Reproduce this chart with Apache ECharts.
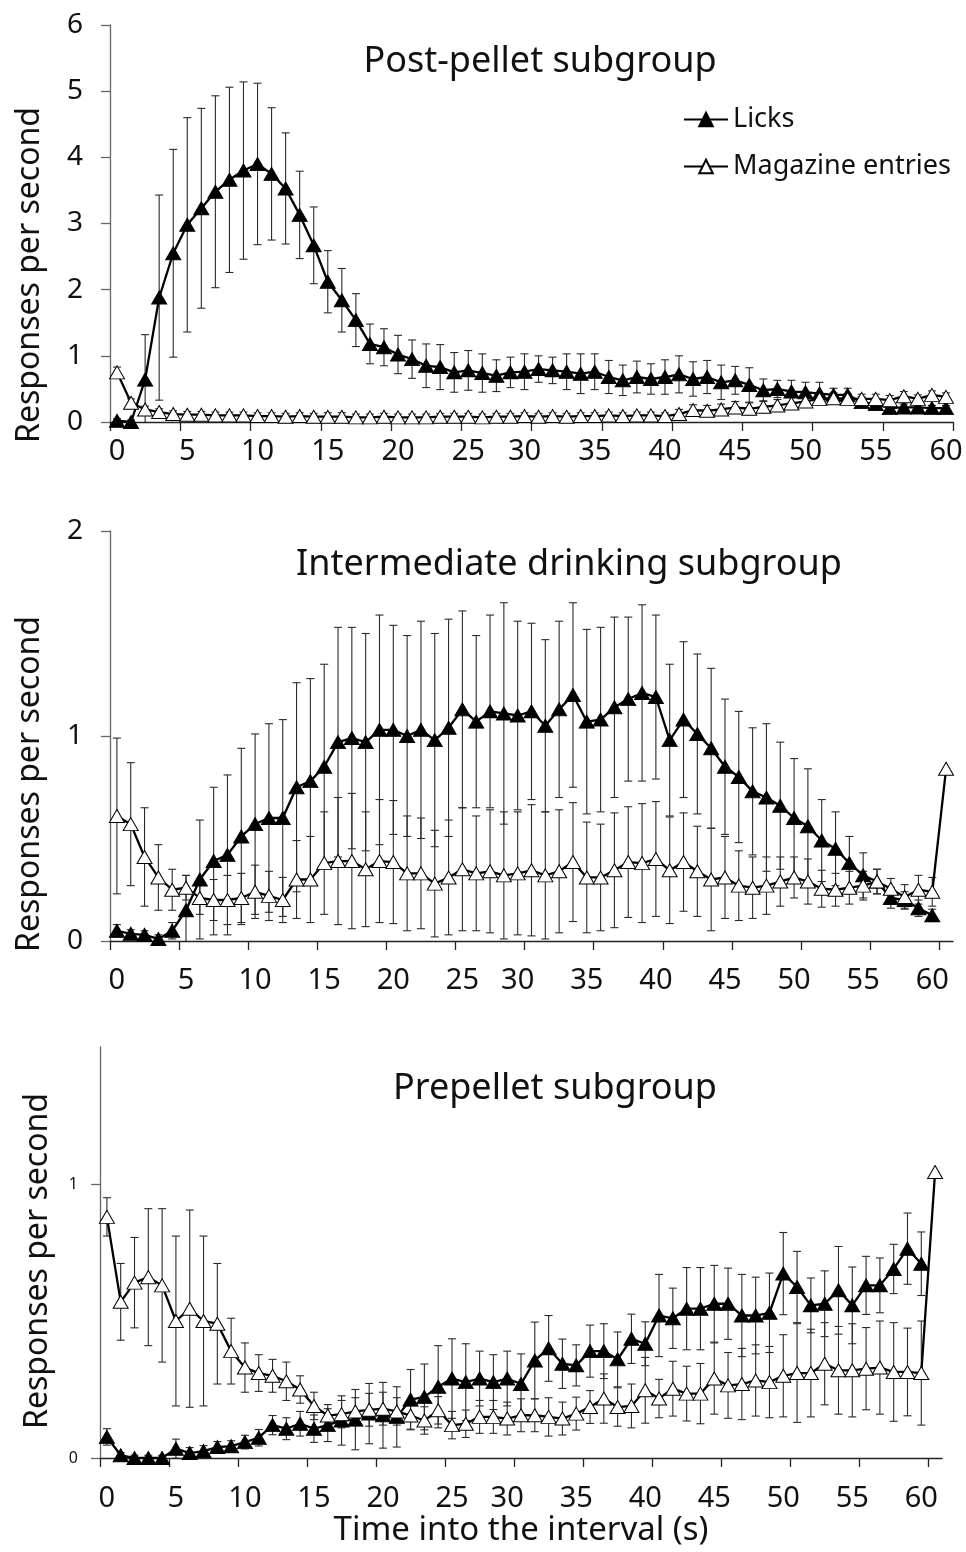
<!DOCTYPE html>
<html>
<head>
<meta charset="utf-8">
<script src="https://cdn.jsdelivr.net/npm/echarts@6/dist/echarts.min.js"></script>
<style>
  html, body { margin: 0; padding: 0; background: #fff; }
  #chart { width: 966px; height: 1552px; }
</style>
</head>
<body>
<div id="chart"></div>
<script>
// ---- Axis labels ----------------------------------------------------------
const tickLabelText = ['0', '5', '10', '15', '20', '25', '30', '35', '40', '45', '50', '55', '60'];
// category slot under which each time label is printed
const tickLabelSlot = [0, 5, 10, 15, 20, 25, 29, 34, 39, 44, 49, 54, 59];
const tickMarkValues = [0, 5, 10, 15, 20, 25, 30, 35, 40, 45, 50, 55, 60];
const panelTitles = ['Post-pellet subgroup', 'Intermediate drinking subgroup', 'Prepellet subgroup'];
const seriesNames = ['Licks', 'Magazine entries'];
const yAxisName = 'Responses per second';
const xAxisName = 'Time into the interval (s)';

// ---- Post-pellet subgroup (responses per second, mean and SEM) --------------
const postLicks = [0.02, 0.0, 0.64, 1.88, 2.55, 2.98, 3.23, 3.48, 3.66, 3.80,
  3.90, 3.75, 3.53, 3.13, 2.67, 2.12, 1.84, 1.54, 1.18, 1.13,
  1.02, 0.95, 0.85, 0.83, 0.75, 0.78, 0.74, 0.70, 0.75, 0.76,
  0.80, 0.78, 0.76, 0.73, 0.76, 0.68, 0.63, 0.68, 0.65, 0.68,
  0.72, 0.65, 0.68, 0.60, 0.63, 0.56, 0.48, 0.50, 0.46, 0.45,
  0.43, 0.41, 0.41, 0.30, 0.27, 0.21, 0.22, 0.22, 0.21, 0.21];
const postLicksErr = [0.03, 0.03, 0.68, 1.55, 1.57, 1.62, 1.51, 1.45, 1.40, 1.34,
  1.22, 1.00, 0.84, 0.66, 0.58, 0.47, 0.48, 0.40, 0.30, 0.28,
  0.29, 0.29, 0.33, 0.34, 0.30, 0.30, 0.29, 0.24, 0.23, 0.27,
  0.20, 0.20, 0.27, 0.30, 0.27, 0.25, 0.23, 0.24, 0.23, 0.26,
  0.28, 0.26, 0.25, 0.26, 0.21, 0.26, 0.17, 0.13, 0.17, 0.15,
  0.17, 0.10, 0.10, 0.08, 0.06, 0.05, 0.05, 0.04, 0.04, 0.04];
const postMag = [0.75, 0.29, 0.19, 0.15, 0.12, 0.11, 0.11, 0.10, 0.10, 0.10,
  0.09, 0.09, 0.08, 0.09, 0.08, 0.08, 0.08, 0.07, 0.07, 0.08,
  0.07, 0.07, 0.07, 0.08, 0.08, 0.08, 0.07, 0.08, 0.08, 0.09,
  0.08, 0.09, 0.08, 0.09, 0.09, 0.10, 0.09, 0.10, 0.10, 0.09,
  0.12, 0.18, 0.17, 0.19, 0.22, 0.20, 0.23, 0.25, 0.28, 0.31,
  0.35, 0.36, 0.35, 0.35, 0.35, 0.33, 0.39, 0.35, 0.41, 0.38];
const postMagErr = [0.08, 0.06, 0.05, 0.05, 0.05, 0.05, 0.05, 0.05, 0.05, 0.05,
  0.05, 0.05, 0.05, 0.05, 0.05, 0.06, 0.06, 0.05, 0.05, 0.05,
  0.05, 0.05, 0.05, 0.05, 0.05, 0.05, 0.05, 0.05, 0.05, 0.05,
  0.05, 0.05, 0.05, 0.05, 0.05, 0.05, 0.05, 0.05, 0.05, 0.05,
  0.07, 0.08, 0.08, 0.08, 0.09, 0.09, 0.09, 0.09, 0.09, 0.09,
  0.08, 0.08, 0.08, 0.07, 0.07, 0.07, 0.07, 0.06, 0.06, 0.06];

// ---- Intermediate drinking subgroup ---------------------------------------
const midLicks = [0.05, 0.035, 0.03, 0.01, 0.05, 0.15, 0.30, 0.39, 0.42, 0.51,
  0.57, 0.60, 0.60, 0.75, 0.78, 0.85, 0.97, 0.99, 0.97, 1.03,
  1.03, 1.00, 1.03, 0.98, 1.04, 1.13, 1.07, 1.12, 1.11, 1.10,
  1.12, 1.05, 1.13, 1.20, 1.07, 1.08, 1.14, 1.18, 1.21, 1.19,
  0.98, 1.08, 1.01, 0.94, 0.85, 0.80, 0.73, 0.70, 0.66, 0.60,
  0.56, 0.49, 0.45, 0.38, 0.32, 0.29, 0.21, 0.20, 0.16, 0.125];
const midLicksErr = [0.03, 0.02, 0.02, 0.02, 0.04, 0.17, 0.29, 0.36, 0.39, 0.43,
  0.44, 0.46, 0.48, 0.51, 0.50, 0.50, 0.56, 0.54, 0.53, 0.56,
  0.51, 0.49, 0.53, 0.52, 0.53, 0.48, 0.42, 0.47, 0.54, 0.46,
  0.43, 0.42, 0.43, 0.45, 0.45, 0.45, 0.44, 0.40, 0.43, 0.40,
  0.37, 0.38, 0.39, 0.39, 0.33, 0.32, 0.31, 0.36, 0.31, 0.29,
  0.28, 0.20, 0.18, 0.13, 0.11, 0.06, 0.05, 0.04, 0.04, 0.03];
const midMag = [0.61, 0.57, 0.41, 0.31, 0.25, 0.26, 0.21, 0.20, 0.20, 0.21,
  0.24, 0.22, 0.20, 0.30, 0.30, 0.38, 0.39, 0.39, 0.35, 0.39,
  0.385, 0.33, 0.33, 0.28, 0.31, 0.35, 0.33, 0.34, 0.32, 0.33,
  0.345, 0.32, 0.34, 0.385, 0.31, 0.31, 0.345, 0.385, 0.38, 0.40,
  0.345, 0.385, 0.34, 0.30, 0.31, 0.27, 0.26, 0.27, 0.29, 0.31,
  0.29, 0.255, 0.25, 0.26, 0.27, 0.29, 0.255, 0.215, 0.25, 0.24,
  0.84];
const midMagErr = [0.38, 0.30, 0.24, 0.16, 0.10, 0.06, 0.08, 0.10, 0.12, 0.12,
  0.13, 0.12, 0.11, 0.19, 0.21, 0.25, 0.31, 0.33, 0.28, 0.30,
  0.30, 0.28, 0.27, 0.26, 0.28, 0.30, 0.28, 0.30, 0.31, 0.30,
  0.32, 0.31, 0.30, 0.29, 0.27, 0.26, 0.28, 0.27, 0.29, 0.28,
  0.26, 0.24, 0.22, 0.25, 0.20, 0.17, 0.15, 0.14, 0.12, 0.10,
  0.11, 0.09, 0.08, 0.08, 0.07, 0.06, 0.05, 0.06, 0.07, 0.07,
  0.0];

// ---- Prepellet subgroup ----------------------------------------------------
const preLicks = [0.077, 0.01, 0.0, 0.0, 0.0, 0.034, 0.018, 0.025, 0.04, 0.043,
  0.058, 0.074, 0.12, 0.107, 0.125, 0.107, 0.12, 0.137, 0.14, 0.162,
  0.156, 0.15, 0.213, 0.223, 0.26, 0.29, 0.277, 0.29, 0.277, 0.29,
  0.27, 0.356, 0.40, 0.344, 0.338, 0.39, 0.39, 0.36, 0.435, 0.417,
  0.52, 0.51, 0.545, 0.545, 0.563, 0.563, 0.52, 0.52, 0.53, 0.673,
  0.624, 0.557, 0.563, 0.612, 0.557, 0.63, 0.63, 0.69, 0.764, 0.709];
const preLicksErr = [0.03, 0.01, 0.01, 0.01, 0.01, 0.035, 0.02, 0.02, 0.02, 0.02,
  0.025, 0.03, 0.035, 0.04, 0.045, 0.05, 0.06, 0.09, 0.11, 0.11,
  0.12, 0.11, 0.11, 0.12, 0.15, 0.145, 0.14, 0.10, 0.10, 0.10,
  0.11, 0.14, 0.12, 0.09, 0.075, 0.095, 0.10, 0.10, 0.09, 0.08,
  0.15, 0.11, 0.15, 0.15, 0.14, 0.13, 0.15, 0.14, 0.145, 0.15,
  0.13, 0.10, 0.12, 0.16, 0.14, 0.106, 0.10, 0.09, 0.13, 0.116];
const preMag = [0.88, 0.57, 0.64, 0.66, 0.63, 0.50, 0.545, 0.50, 0.49, 0.39,
  0.33, 0.31, 0.30, 0.28, 0.25, 0.19, 0.155, 0.16, 0.17, 0.176,
  0.18, 0.17, 0.155, 0.137, 0.174, 0.12, 0.125, 0.15, 0.15, 0.144,
  0.156, 0.156, 0.15, 0.144, 0.162, 0.186, 0.217, 0.186, 0.19, 0.247,
  0.217, 0.253, 0.235, 0.235, 0.29, 0.265, 0.27, 0.283, 0.277, 0.30,
  0.31, 0.31, 0.344, 0.32, 0.32, 0.326, 0.33, 0.314, 0.314, 0.31,
  1.044];
const preMagErr = [0.07, 0.14, 0.165, 0.25, 0.28, 0.31, 0.36, 0.31, 0.22, 0.12,
  0.09, 0.067, 0.06, 0.07, 0.05, 0.05, 0.04, 0.05, 0.05, 0.06,
  0.06, 0.05, 0.05, 0.05, 0.05, 0.05, 0.05, 0.06, 0.06, 0.06,
  0.06, 0.06, 0.07, 0.06, 0.06, 0.06, 0.09, 0.07, 0.08, 0.12,
  0.07, 0.10, 0.10, 0.11, 0.13, 0.12, 0.13, 0.13, 0.13, 0.15,
  0.18, 0.16, 0.15, 0.16, 0.17, 0.15, 0.17, 0.18, 0.16, 0.19,
  0.0];

// ---- Panel assembly ---------------------------------------------------------
const panelData = [
  { licks: postLicks, licksErr: postLicksErr, mag: postMag, magErr: postMagErr, slots: 60, yMax: 6, yTicks: [0, 1, 2, 3, 4, 5, 6] },
  { licks: midLicks, licksErr: midLicksErr, mag: midMag, magErr: midMagErr, slots: 61, yMax: 2, yTicks: [0, 1, 2] },
  { licks: preLicks, licksErr: preLicksErr, mag: preMag, magErr: preMagErr, slots: 61, yMax: 1.5, yTicks: [0, 1] }
];

// layout of each panel
const layout = [
  { grid: { left: 110, top: 25, width: 843, height: 397 }, xLabelMargin: 15, yLabelSize: 28, yLabelMargin: 27,
    title: [535, 60], yName: [30, 275] },
  { grid: { left: 110, top: 531, width: 843, height: 410 }, xLabelMargin: 25, yLabelSize: 28, yLabelMargin: 27,
    title: [564, 563], yName: [30, 784] },
  { grid: { left: 100, top: 1047, width: 842, height: 411 }, xLabelMargin: 26, yLabelSize: 16, yLabelMargin: 22,
    title: [550, 1087], yName: [38, 1261] }
];

const FONT = '"Noto Sans", "Open Sans", sans-serif';
const INK = '#111';

function renderErrorBar(params, api) {
  const err = api.value(2);
  if (!err) return null;
  const i = api.value(0);
  const m = api.value(1);
  const top = api.coord([i, m + err]);
  const bot = api.coord([i, m - err]);
  const half = 4;
  const style = { stroke: '#2a2a2a', lineWidth: 1.1 };
  return {
    type: 'group',
    children: [
      { type: 'line', shape: { x1: top[0], y1: top[1], x2: bot[0], y2: bot[1] }, style },
      { type: 'line', shape: { x1: top[0] - half, y1: top[1], x2: top[0] + half, y2: top[1] }, style },
      { type: 'line', shape: { x1: bot[0] - half, y1: bot[1], x2: bot[0] + half, y2: bot[1] }, style }
    ]
  };
}

function slotLabel(value, index) {
  const k = tickLabelSlot.indexOf(index);
  return k >= 0 ? tickLabelText[k] : '';
}

const grids = [], xAxes = [], yAxes = [], series = [], titles = [], graphics = [];

panelData.forEach((p, g) => {
  const L = layout[g];
  grids.push(L.grid);
  const cats = Array.from({ length: p.slots }, (_, i) => String(i));

  // axis line and tick marks at the slot boundaries
  xAxes.push({
    gridIndex: g, type: 'value', min: 0, max: p.slots, position: 'bottom',
    axisLine: { show: true, onZero: false, lineStyle: { color: '#222', width: 1.3 } },
    axisTick: { show: true, length: 9, customValues: tickMarkValues, lineStyle: { color: '#222', width: 1.3 } },
    axisLabel: { show: false },
    splitLine: { show: false },
    name: g === 2 ? xAxisName : '',
    nameLocation: 'middle', nameGap: 56,
    nameTextStyle: { fontFamily: FONT, fontSize: 33, color: INK }
  });
  // time slots carrying the data and the labels
  xAxes.push({
    gridIndex: g, type: 'category', data: cats, boundaryGap: true, position: 'bottom',
    axisLine: { show: false, onZero: false }, axisTick: { show: false }, splitLine: { show: false },
    axisLabel: { interval: 0, formatter: slotLabel, fontFamily: FONT, fontSize: 29, color: INK, margin: L.xLabelMargin }
  });
  yAxes.push({
    gridIndex: g, type: 'value', min: 0, max: p.yMax, interval: 1,
    axisLine: { show: true, lineStyle: { color: '#666', width: 1.3 } },
    axisTick: { show: true, length: 9, customValues: p.yTicks, lineStyle: { color: '#666', width: 1.3 } },
    axisLabel: { customValues: p.yTicks, fontFamily: FONT, fontSize: L.yLabelSize, color: INK, margin: L.yLabelMargin },
    splitLine: { show: false }
  });

  const xi = g * 2 + 1;
  series.push({
    type: 'custom', xAxisIndex: xi, yAxisIndex: g, silent: true, clip: true, z: 1,
    renderItem: renderErrorBar, encode: { x: 0, y: 1 },
    data: p.licks.map((v, i) => [i, v, p.licksErr[i]])
  });
  series.push({
    type: 'custom', xAxisIndex: xi, yAxisIndex: g, silent: true, clip: true, z: 1,
    renderItem: renderErrorBar, encode: { x: 0, y: 1 },
    data: p.mag.map((v, i) => [i, v, p.magErr[i]])
  });
  series.push({
    name: seriesNames[0], type: 'line', xAxisIndex: xi, yAxisIndex: g, data: p.licks,
    symbol: 'triangle', symbolSize: [15, 13], showSymbol: true, showAllSymbol: true, z: 3,
    lineStyle: { color: '#000', width: 2.3 },
    itemStyle: { color: '#000', borderColor: '#000', borderWidth: 1 }
  });
  series.push({
    name: seriesNames[1], type: 'line', xAxisIndex: xi, yAxisIndex: g, data: p.mag,
    symbol: 'triangle', symbolSize: [15, 13], showSymbol: true, showAllSymbol: true, z: 4,
    lineStyle: { color: '#000', width: 2.3 },
    itemStyle: { color: '#fff', borderColor: '#000', borderWidth: 1 }
  });

  titles.push({
    text: panelTitles[g], left: L.title[0], top: L.title[1] - 21, textAlign: 'center',
    textStyle: { fontFamily: FONT, fontSize: 36, fontWeight: 'normal', color: INK }
  });
  graphics.push({
    type: 'text', x: L.yName[0], y: L.yName[1], rotation: Math.PI / 2,
    style: { text: yAxisName, font: '32px ' + FONT, fill: INK, align: 'center', verticalAlign: 'middle' }
  });
});

const chart = echarts.init(document.getElementById('chart'), null, { renderer: 'canvas' });
chart.setOption({
  animation: false,
  backgroundColor: '#fff',
  title: titles,
  grid: grids,
  xAxis: xAxes,
  yAxis: yAxes,
  legend: {
    data: seriesNames, orient: 'vertical', left: 678, top: 101,
    itemWidth: 44, itemHeight: 17, itemGap: 20, selectedMode: false,
    textStyle: { fontFamily: FONT, fontSize: 27, color: INK }
  },
  graphic: graphics,
  series: series
});
</script>
</body>
</html>
